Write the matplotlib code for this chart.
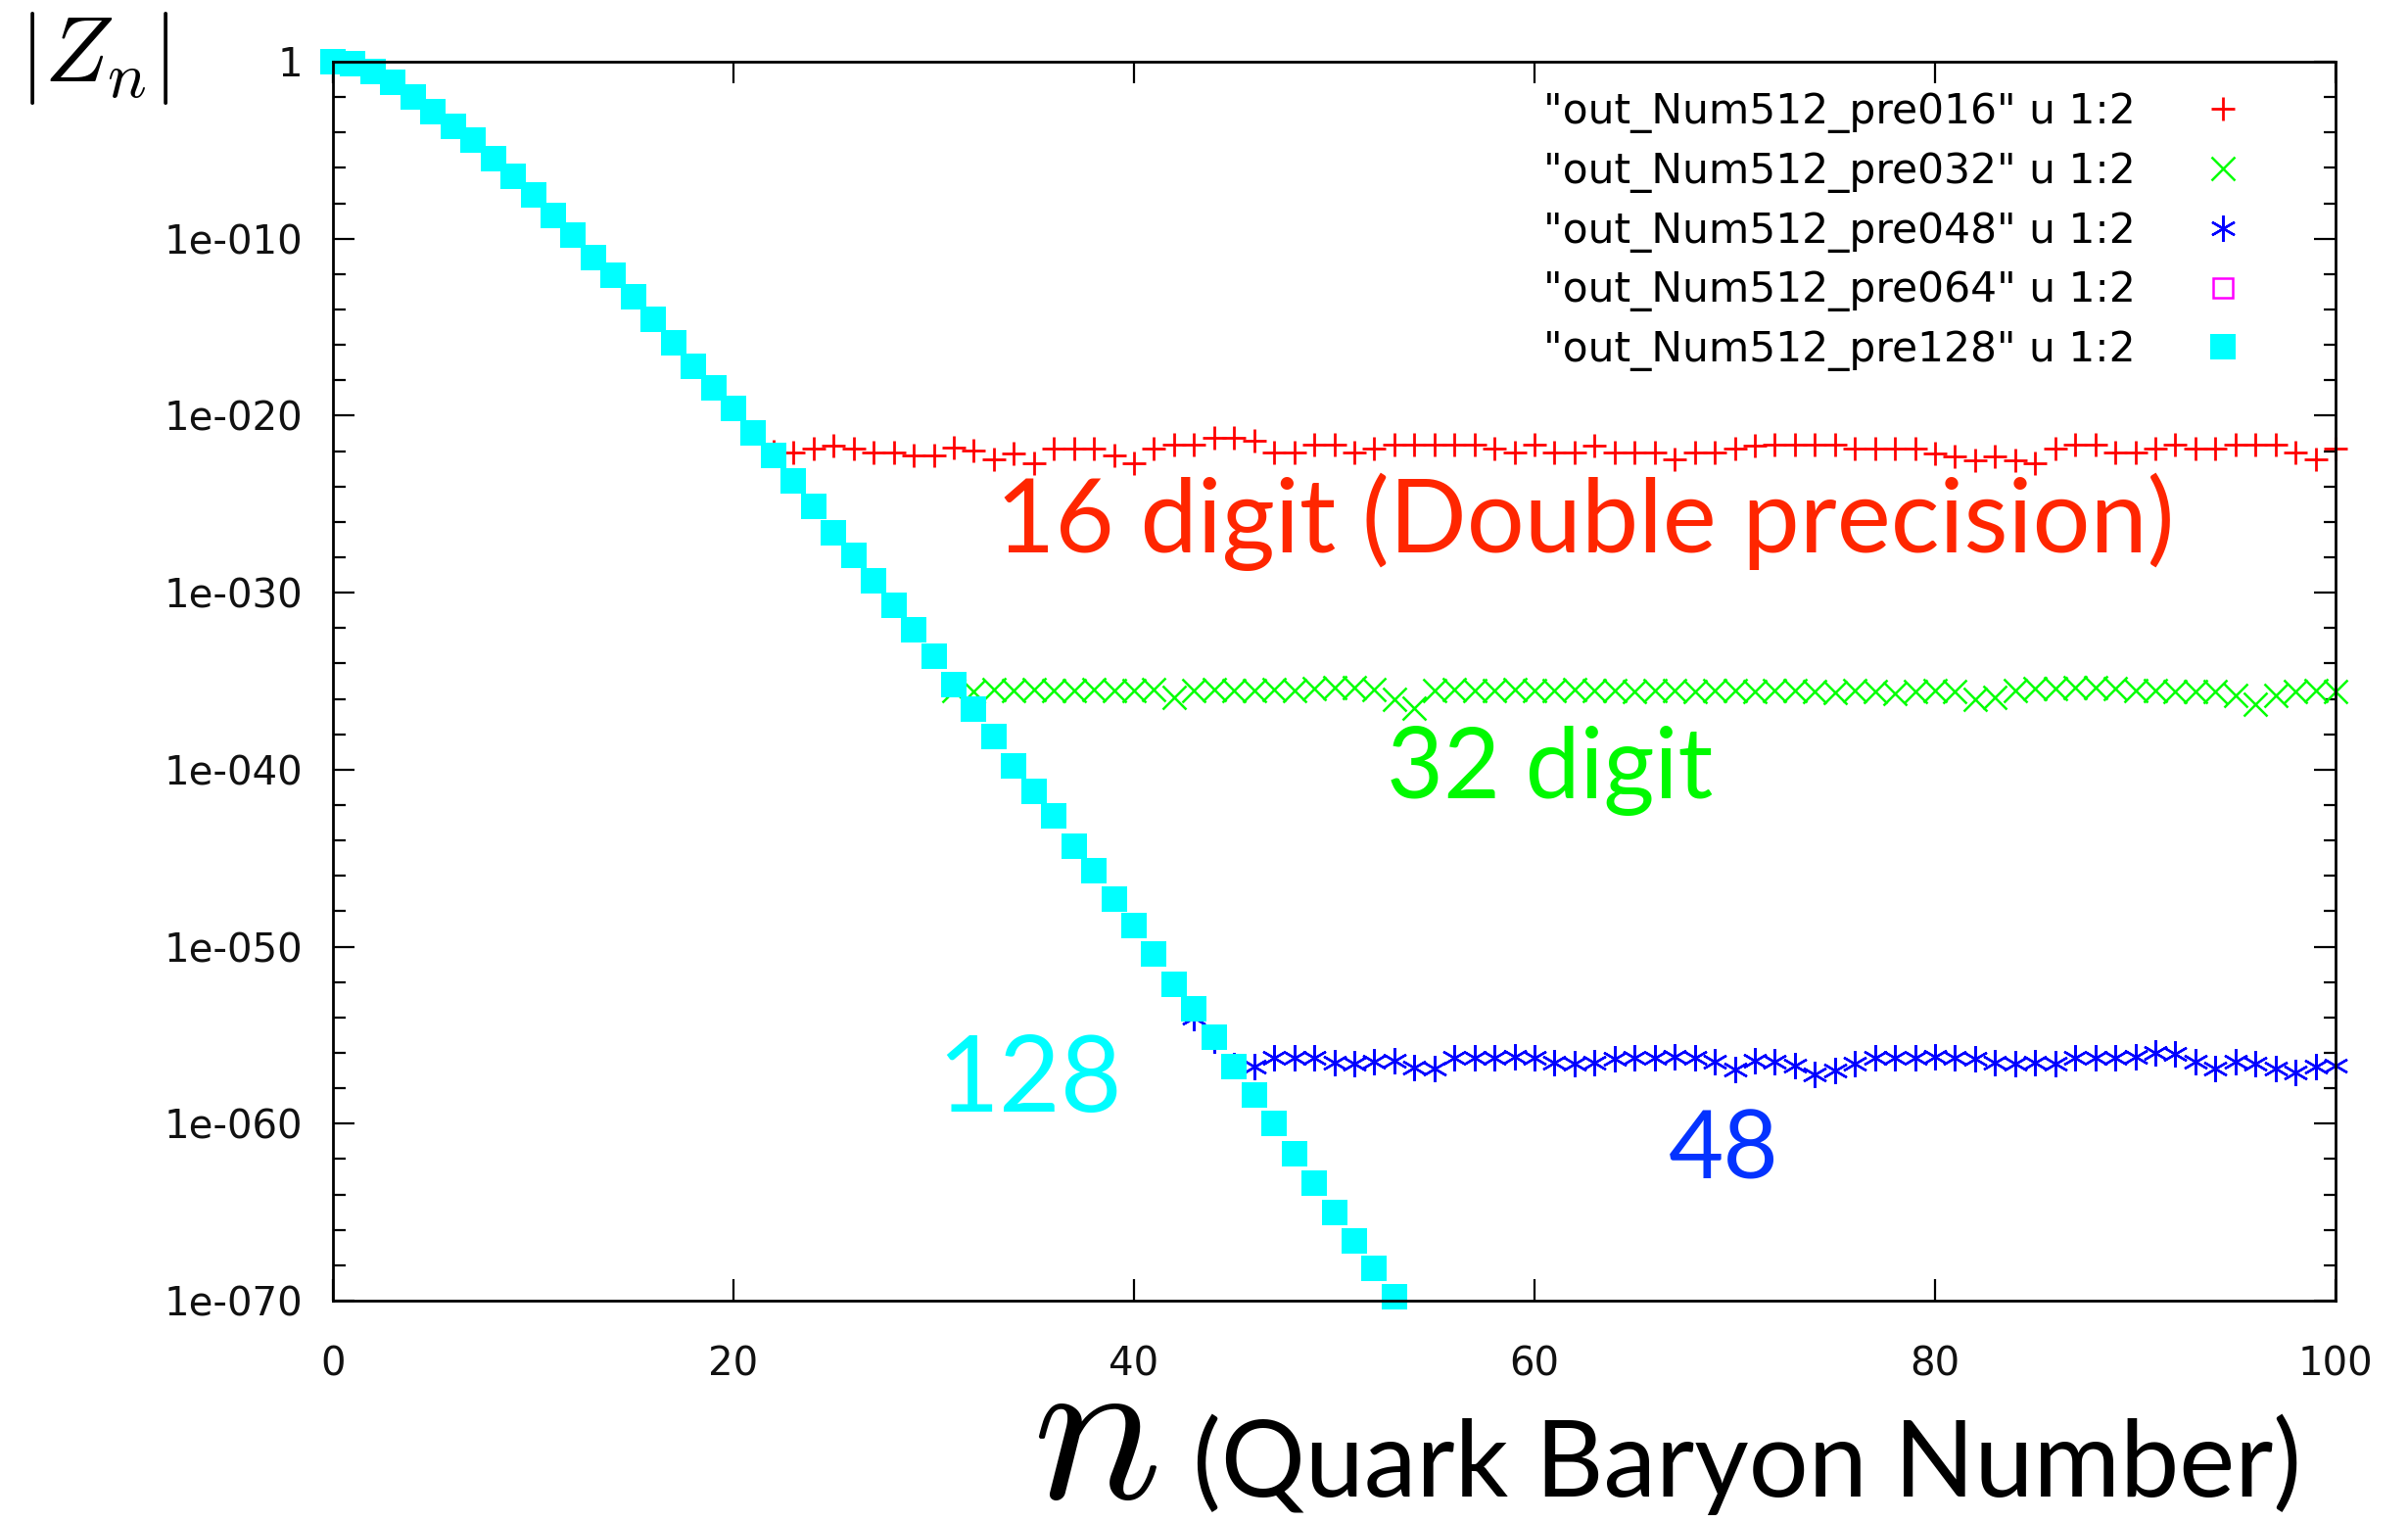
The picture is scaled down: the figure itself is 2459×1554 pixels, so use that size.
import numpy as np
import matplotlib.pyplot as plt

# log10 |Z_n| for each precision run (512 numbers, different digit counts)
n_pre128 = list(range(0, 54))
log_pre128 = [0.0, -0.11, -0.57, -1.16, -2.0, -2.82, -3.67, -4.45, -5.5, -6.5,
              -7.5, -8.7, -9.8, -11.05, -12.05, -13.3, -14.55, -15.9, -17.2, -18.4,
              -19.6, -21.0, -22.25, -23.7, -25.15, -26.6, -27.9, -29.35, -30.7, -32.1,
              -33.6, -35.2, -36.6, -38.1, -39.8, -41.2, -42.6, -44.3, -45.7, -47.3,
              -48.8, -50.4, -52.1, -53.5, -55.1, -56.8, -58.4, -60.0, -61.7, -63.35,
              -65.0, -66.6, -68.2, -69.8]

n_pre016 = list(range(22, 101))
log_pre016 = [-22.0, -22.06, -21.88, -21.69, -21.88, -22.06, -22.06, -22.25, -22.25, -21.79,
              -21.97, -22.49, -22.15, -22.71, -21.88, -21.88, -21.88, -22.25, -22.71, -21.88,
              -21.66, -21.66, -21.23, -21.23, -21.42, -22.06, -22.06, -21.66, -21.66, -22.06,
              -21.88, -21.66, -21.66, -21.66, -21.66, -21.66, -21.88, -22.06, -21.66, -22.06,
              -22.06, -21.69, -22.06, -22.06, -22.06, -22.49, -22.06, -22.06, -21.88, -21.69,
              -21.66, -21.66, -21.66, -21.66, -21.88, -21.88, -21.88, -21.88, -22.15, -22.3,
              -22.52, -22.3, -22.52, -22.71, -21.88, -21.66, -21.66, -22.06, -22.06, -21.88,
              -21.66, -21.88, -21.88, -21.66, -21.66, -21.66, -22.06, -22.49, -21.88]

n_pre032 = list(range(31, 101))
log_pre032 = [-35.5, -35.6, -35.45, -35.55, -35.45, -35.55, -35.5, -35.45, -35.55, -35.5,
              -35.45, -35.9, -35.55, -35.45, -35.5, -35.55, -35.45, -35.5, -35.4, -35.35,
              -35.35, -35.45, -36.0, -36.5, -35.55, -35.45, -35.5, -35.55, -35.45, -35.5,
              -35.55, -35.45, -35.5, -35.55, -35.6, -35.5, -35.55, -35.6, -35.5, -35.55,
              -35.6, -35.5, -35.55, -35.6, -35.65, -35.55, -35.6, -35.7, -35.6, -35.55,
              -35.6, -36.0, -35.9, -35.5, -35.4, -35.4, -35.35, -35.35, -35.4, -35.5,
              -35.5, -35.6, -35.6, -35.6, -35.8, -36.3, -35.8, -35.6, -35.5, -35.6]

n_pre048 = list(range(43, 101))
log_pre048 = [-54.0, -55.3, -56.7, -56.8, -56.3, -56.25, -56.3, -56.55, -56.6, -56.5,
              -56.45, -56.85, -56.9, -56.3, -56.25, -56.3, -56.2, -56.3, -56.55, -56.6,
              -56.55, -56.35, -56.25, -56.3, -56.2, -56.3, -56.5, -56.95, -56.45, -56.5,
              -56.7, -57.2, -57.0, -56.6, -56.3, -56.25, -56.3, -56.2, -56.3, -56.35,
              -56.55, -56.6, -56.55, -56.6, -56.3, -56.25, -56.3, -56.2, -56.0, -56.05,
              -56.5, -56.9, -56.5, -56.6, -56.9, -57.1, -56.8, -56.7]

# pre064 agrees with pre128 over the whole plotted range and sits under it
n_pre064 = []
log_pre064 = []

labels = ['"out_Num512_pre016" u 1:2', '"out_Num512_pre032" u 1:2',
          '"out_Num512_pre048" u 1:2', '"out_Num512_pre064" u 1:2',
          '"out_Num512_pre128" u 1:2']

xticks = [0, 20, 40, 60, 80, 100]
ytick_exp = [0, -10, -20, -30, -40, -50, -60, -70]
ytick_labels = ['1', '1e-010', '1e-020', '1e-030', '1e-040', '1e-050', '1e-060', '1e-070']
yminor_exp = [e for e in range(0, -71, -2) if e % 10 != 0]

W, H = 2459, 1554
fig = plt.figure(figsize=(W / 100, H / 100), dpi=100)
ax = fig.add_axes([340 / W, 1 - 1328 / H, (2385 - 340) / W, (1328 - 63) / H])

def z(v):
    return 10.0 ** np.array(v, dtype=float)

ax.plot(n_pre016, z(log_pre016), ls='none', marker='+', ms=17, mew=2.0,
        color='#ff0000', clip_on=False, label=labels[0])
ax.plot(n_pre032, z(log_pre032), ls='none', marker='x', ms=17, mew=1.8,
        color='#00ff00', clip_on=False, label=labels[1])
ax.plot(n_pre048, z(log_pre048), ls='none', marker=(6, 2, 0), ms=19, mew=1.7,
        color='#0000ff', clip_on=False, label=labels[2])
ax.plot(n_pre064, z(log_pre064), ls='none', marker='s', ms=14, mew=1.8,
        mfc='none', mec='#ff00ff', clip_on=False, label=labels[3])
ax.plot(n_pre128, z(log_pre128), ls='none', marker='s', ms=18.5, mew=0,
        color='#00ffff', clip_on=False, label=labels[4])

ax.set_yscale('log')
ax.set_xlim(0, 100)
ax.set_ylim(1e-70, 1)
ax.set_xticks(xticks)
ax.set_xticklabels([str(t) for t in xticks])
ax.set_yticks(z(ytick_exp))
ax.set_yticklabels(ytick_labels)
ax.set_yticks(z(yminor_exp), minor=True)
ax.yaxis.set_minor_formatter(plt.NullFormatter())
ax.tick_params(which='both', direction='in', top=True, right=True,
               width=1.6, labelsize=29, labelcolor='#111111')
ax.tick_params(which='major', length=16)
ax.tick_params(which='minor', length=9)
ax.tick_params(axis='x', pad=33)
ax.tick_params(axis='y', pad=22)
for s in ax.spines.values():
    s.set_linewidth(2)

ax.legend(loc='upper right', bbox_to_anchor=(2289 / W, 1 - 93 / H),
          bbox_transform=fig.transFigure, frameon=False, markerfirst=False,
          numpoints=1, fontsize=30.5, handlelength=0.9, handletextpad=1.65,
          labelspacing=0.42, borderpad=0, borderaxespad=0)

# series annotations
tfont = 'Lato'
ax.text(33.1, 10 ** -27.7, '16 digit (Double precision)', color='#ff2600',
        fontsize=75, family=tfont, va='baseline')
ax.text(52.6, 10 ** -41.6, '32 digit', color='#00f900',
        fontsize=72, family=tfont, va='baseline')
ax.text(66.7, 10 ** -63.1, '48', color='#0433ff',
        fontsize=70, family=tfont, va='baseline')
ax.text(30.2, 10 ** -59.3, '128', color='#00fdff',
        fontsize=78, family=tfont, va='baseline')

plt.rcParams['mathtext.fontset'] = 'cm'
fig.text(19 / W, 1 - 10 / H, r'$|Z_n|$', fontsize=68, va='top', ha='left')
fig.text(1054 / W, 1 - 1530 / H, r'$n$', fontsize=158, va='baseline', ha='left')
fig.text(1218 / W, 1 - 1528 / H, '(Quark Baryon Number)', fontsize=77.5,
         family=tfont, va='baseline', ha='left')

fig.savefig('out.png', dpi=100)
